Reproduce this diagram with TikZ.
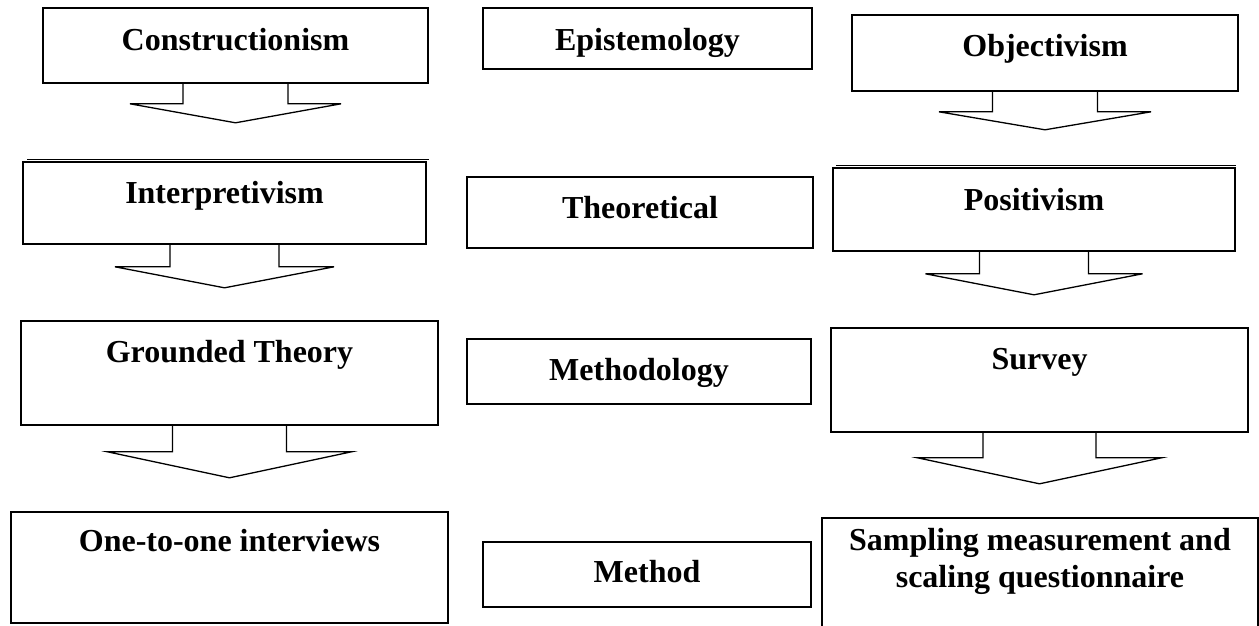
\documentclass[tikz,border=0pt]{standalone}
\usepackage{fontspec}
\setmainfont{Liberation Serif}
\usetikzlibrary{calc}
\tikzset{
  box/.style={draw=black, line width=1.6pt, fill=white, inner sep=0pt, rectangle},
  txt/.style={inner sep=0pt, anchor=base, font=\fontsize{32}{37}\selectfont\bfseries},
  arr/.style={draw=black, line width=1.3pt, line join=miter},
  edgeline/.style={draw=black, line width=0.9pt},
}
% #1 node, #2 stem half width, #3 stem length, #4 head half width, #5 head length
\newcommand\blockarr[5]{%
  \draw[arr] ($(#1.south)+(-#2,0)$) -- ++(0,#3) -- ++({#2-#4},0)
     -- ($(#1.south)+(0,{#3+#5})$) -- ($(#1.south)+(#4,#3)$) -- ++({#2-#4},0) -- ++(0,-#3);}
\begin{document}
\begin{tikzpicture}[x=1pt,y=-1pt]
\useasboundingbox (0,0) rectangle (1259,625);
\fill[white] (0,0) rectangle (1259,625);

% left column
\node[box, minimum width=385pt, minimum height=75pt] (c1) at (235.5,45.5) {};
\node[txt] (c1t) at (235.5,50) {Constructionism};
\draw[edgeline] (27,159) -- (429,159);
\node[box, minimum width=403pt, minimum height=82pt] (c2) at (224.5,203) {};
\node[txt] (c2t) at (224.5,203) {Interpretivism};
\node[box, minimum width=417pt, minimum height=104pt] (c3) at (229.5,373) {};
\node[txt] (c3t) at (229.5,362) {Grounded Theory};
\node[box, minimum width=437pt, minimum height=111pt] (c4) at (229.5,567.5) {};
\node[txt] (c4t) at (229.5,551) {One-to-one interviews};

% middle column
\node[box, minimum width=329pt, minimum height=61pt] (m1) at (647.5,38.5) {};
\node[txt] (m1t) at (647.5,50) {Epistemology};
\node[box, minimum width=346pt, minimum height=71pt] (m2) at (640,212.5) {};
\node[txt] (m2t) at (640,218) {Theoretical};
\node[box, minimum width=344pt, minimum height=65pt] (m3) at (639,371.5) {};
\node[txt] (m3t) at (639,380) {Methodology};
\node[box, minimum width=328pt, minimum height=65pt] (m4) at (647,574.5) {};
\node[txt] (m4t) at (647,582) {Method};

% right column
\node[box, minimum width=386pt, minimum height=76pt] (r1) at (1045,53) {};
\node[txt] (r1t) at (1045,56) {Objectivism};
\draw[edgeline] (836,165) -- (1236,165);
\node[box, minimum width=402pt, minimum height=83pt] (r2) at (1034,209.5) {};
\node[txt] (r2t) at (1034,210) {Positivism};
\node[box, minimum width=417pt, minimum height=104pt] (r3) at (1039.5,380) {};
\node[txt] (r3t) at (1039.5,369) {Survey};
\node[box, minimum width=436pt, minimum height=112pt] (r4) at (1040,574) {};
\node[txt] (r4t) at (1040,550) {Sampling measurement and};
\node[txt] (r4u) at (1040,587) {scaling questionnaire};

% block arrows
\blockarr{c1}{52.5}{20}{105.5}{19}
\blockarr{c2}{54.5}{22}{109.5}{21}
\blockarr{c3}{57}{26}{122}{26}
\blockarr{r1}{52.5}{20}{106}{18}
\blockarr{r2}{54.5}{22}{108.5}{21}
\blockarr{r3}{56.5}{25}{122}{26}
\end{tikzpicture}
\end{document}
